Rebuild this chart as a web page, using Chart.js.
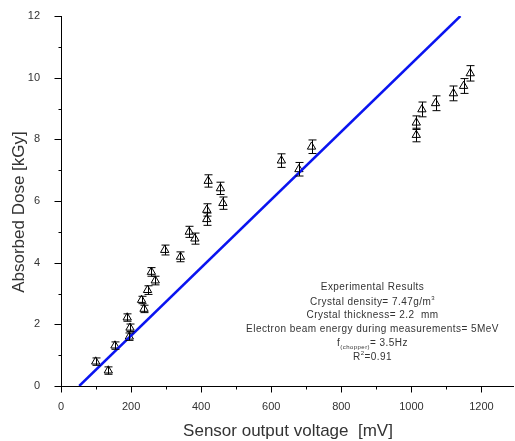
<!DOCTYPE html>
<html>
<head>
<meta charset="utf-8">
<script src="https://cdn.jsdelivr.net/npm/chart.js@4.4.0/dist/chart.umd.min.js"></script>
<style>
  body { margin: 0; background: #fff; }
  #wrap { width: 515px; height: 441px; }
</style>
</head>
<body>
<div id="wrap"><canvas id="chart" width="515" height="441"></canvas></div>
<script>
// measured points (sensor voltage in mV, dose in kGy)
const voltage = [99, 135, 154, 189, 197, 195, 230, 237, 247, 258, 269, 296, 341, 366, 382,
  416, 416, 420, 455, 462, 629, 679, 715, 1014, 1014, 1030, 1069, 1120, 1149, 1168];
const dose = [0.79, 0.5, 1.31, 2.22, 1.89, 1.6, 2.79, 2.5, 3.11, 3.7, 3.42, 4.41, 4.19, 5.0, 4.78,
  5.71, 5.41, 6.65, 6.41, 5.93, 7.31, 7.03, 7.76, 8.14, 8.54, 8.97, 9.17, 9.49, 9.73, 10.14];
const doseErr = [0.12, 0.12, 0.12, 0.12, 0.12, 0.12, 0.12, 0.12, 0.14, 0.14, 0.14, 0.16, 0.16, 0.18, 0.18,
  0.2, 0.2, 0.2, 0.2, 0.2, 0.22, 0.22, 0.22, 0.22, 0.22, 0.24, 0.24, 0.24, 0.24, 0.25];

// linear fit end points
const fitX = [52, 1140];
const fitY = [0, 12];

// ticks (all) and the ones that get a label
const xTicks = [0, 100, 200, 300, 400, 500, 600, 700, 800, 900, 1000, 1100, 1200];
const xTickLabels = [0, 200, 400, 600, 800, 1000, 1200];
const yTicks = [0, 1, 2, 3, 4, 5, 6, 7, 8, 9, 10, 11, 12];
const yTickLabels = [0, 2, 4, 6, 8, 10, 12];

const xTitle = 'Sensor output voltage  [mV]';
const yTitle = 'Absorbed Dose [kGy]';

// annotation lines, each a list of [text, 'n' | 'sup' | 'sub']
const noteLines = [
  [['Experimental Results', 'n']],
  [['Crystal density= 7.47g/m', 'n'], ['3', 'sup']],
  [['Crystal thickness= 2.2  mm', 'n']],
  [['Electron beam energy during measurements= 5MeV', 'n']],
  [['f', 'n'], ['(chopper)', 'sub'], ['= 3.5Hz', 'n']],
  [['R', 'n'], ['2', 'sup'], ['=0.91', 'n']]
];
const noteY = [287, 302, 315, 329, 343, 357];

const FONT = '"Liberation Sans", Arial, sans-serif';

// error bars + outward tick marks (long for labelled, short for the others)
const marks = {
  id: 'marks',
  afterDatasetsDraw(chart) {
    const { ctx, scales: { x, y } } = chart;
    ctx.save();
    ctx.strokeStyle = '#000';
    ctx.lineWidth = 1;
    ctx.beginPath();
    voltage.forEach((v, i) => {
      const px = Math.round(x.getPixelForValue(v)) + 0.5;
      const top = y.getPixelForValue(dose[i] + doseErr[i]);
      const bot = y.getPixelForValue(dose[i] - doseErr[i]);
      ctx.moveTo(px, top); ctx.lineTo(px, bot);
      ctx.moveTo(px - 4, top); ctx.lineTo(px + 4, top);
      ctx.moveTo(px - 4, bot); ctx.lineTo(px + 4, bot);
    });
    const base = Math.round(y.getPixelForValue(0)) + 0.5;
    xTicks.forEach(v => {
      const px = Math.round(x.getPixelForValue(v)) + 0.5;
      ctx.moveTo(px, base);
      ctx.lineTo(px, base + (xTickLabels.includes(v) ? 6 : 3));
    });
    const left = Math.round(x.getPixelForValue(0)) + 0.5;
    yTicks.forEach(v => {
      const py = Math.round(y.getPixelForValue(v)) + 0.5;
      ctx.moveTo(left, py);
      ctx.lineTo(left - (yTickLabels.includes(v) ? 7 : 3), py);
    });
    ctx.stroke();
    ctx.restore();
  }
};

const texts = {
  id: 'texts',
  afterDraw(chart) {
    const ctx = chart.ctx;
    ctx.save();
    ctx.fillStyle = '#333';

    // axis titles
    ctx.font = '17px ' + FONT;
    ctx.textAlign = 'center';
    ctx.textBaseline = 'alphabetic';
    ctx.fillText(xTitle, 288, 436);
    ctx.save();
    ctx.translate(23.5, 212);
    ctx.rotate(-Math.PI / 2);
    ctx.fillText(yTitle, 0, 0);
    ctx.restore();

    // results box
    ctx.textAlign = 'left';
    ctx.textBaseline = 'middle';
    ctx.letterSpacing = '0.45px';
    const fontFor = m => (m === 'n' ? '10px ' : '6px ') + FONT;
    noteLines.forEach((segs, li) => {
      let w = 0;
      segs.forEach(s => { ctx.font = fontFor(s[1]); w += ctx.measureText(s[0]).width; });
      let cx = 372.5 - w / 2;
      segs.forEach(s => {
        ctx.font = fontFor(s[1]);
        const dy = s[1] === 'sup' ? -4 : s[1] === 'sub' ? 4 : 0;
        ctx.fillText(s[0], cx, noteY[li] + dy);
        cx += ctx.measureText(s[0]).width;
      });
    });
    ctx.restore();
  }
};

new Chart(document.getElementById('chart'), {
  type: 'scatter',
  data: {
    datasets: [{
      type: 'line',
      data: fitX.map((v, i) => ({ x: v, y: fitY[i] })),
      borderColor: '#0a14f0',
      borderWidth: 2.5,
      pointRadius: 0,
      fill: false
    }, {
      data: voltage.map((v, i) => ({ x: v, y: dose[i] })),
      pointStyle: 'triangle',
      pointRadius: 4.8,
      backgroundColor: '#fff',
      borderColor: '#000',
      borderWidth: 1
    }]
  },
  options: {
    responsive: false,
    animation: false,
    layout: { autoPadding: false, padding: { top: 16, right: 2, left: 0, bottom: 0 } },
    plugins: { legend: { display: false }, tooltip: { enabled: false } },
    scales: {
      x: {
        type: 'linear',
        min: 0,
        max: 1290,
        afterFit: s => { s.height = 55; s.paddingLeft = 0; s.paddingRight = 0; },
        afterBuildTicks: s => { s.ticks = xTicks.map(v => ({ value: v })); },
        ticks: {
          autoSkip: false,
          maxRotation: 0,
          padding: 6,
          color: '#333',
          font: { family: FONT, size: 11 },
          callback: v => (xTickLabels.includes(v) ? String(v) : '')
        },
        grid: { display: false },
        border: { color: '#000', width: 1 }
      },
      y: {
        min: 0,
        max: 12,
        afterFit: s => { s.width = 61; s.paddingTop = 0; s.paddingBottom = 0; },
        afterBuildTicks: s => { s.ticks = yTicks.map(v => ({ value: v })); },
        ticks: {
          autoSkip: false,
          padding: 13,
          color: '#333',
          font: { family: FONT, size: 11 },
          callback: v => (yTickLabels.includes(v) ? String(v) : '')
        },
        grid: { display: false },
        border: { color: '#000', width: 1 }
      }
    }
  },
  plugins: [marks, texts]
});
</script>
</body>
</html>
